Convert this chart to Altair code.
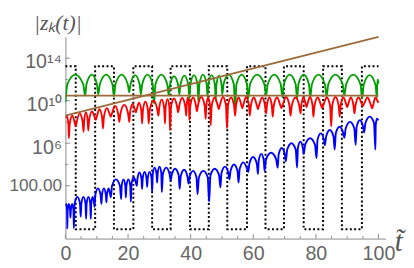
import altair as alt
import pandas as pd

# ---------------- data (values are log10 |z_k|) ----------------
t_max_axis = 102.2
L_min, L_max = -2.97, 16.0
title_text = "|zₖ(t)|"

# dotted square wave: switching times and levels
sq_t = [0, 3.3, 9.5, 15.5, 21.7, 27.7, 33.6, 39.8, 45.8, 51.7, 58.0, 63.9, 69.8, 76.1, 82.3, 88.3, 94.7, 100]
sq_high, sq_low = 13.24, -2.09

# brown reference lines
brown_flat_t = [0, 100]
brown_flat_L = [10.47, 10.47]
brown_rise_t = [0, 100]
brown_rise_L = [8.6, 16.0]

# green: knots (start, dips, end) and arch tops between knots
green_t = [0, 6.3, 10.5, 15.5, 20.4, 24.1, 28.3, 33.0, 36.4, 39.6, 42.5, 45.4, 48.0, 50.1, 54.2, 58.4, 64.1, 69.3, 74.0, 78.2, 83.4, 89.1, 94.8, 99.5, 100]
green_L = [9.85, 10.47, 10.6, 10.4, 10.8, 10.6, 9.7, 10.5, 10.6, 10.2, 9.85, 10.4, 10.0, 10.6, 9.4, 10.2, 10.5, 10.3, 10.2, 10.3, 10.4, 10.5, 10.2, 10.3, 11.6]
green_top = [12.45, 12.45, 12.45, 12.45, 12.4, 12.45, 12.45, 12.3, 12.35, 12.4, 12.45, 12.4, 12.35, 12.45, 12.45, 12.45, 12.45, 12.45, 12.45, 12.45, 12.45, 12.45, 12.4, 12.0]

# red
red_t = [0, 1.1, 3.3, 5.8, 7.3, 9.7, 12.0, 14.5, 17.2, 20.4, 22.5, 24.5, 26.6, 29.7, 31.8, 33.4, 36.0, 38.6, 39.6, 42.0, 44.8, 46.4, 49.0, 51.6, 54.2, 56.5, 58.9, 61.5, 64.1, 66.2, 69.0, 71.9, 75.1, 77.0, 79.2, 82.0, 84.9, 87.6, 90.0, 92.3, 95.0, 98.0, 100]
red_L = [8.4, 6.47, 7.6, 7.08, 7.2, 8.2, 7.4, 8.5, 8.0, 8.0, 8.9, 7.85, 7.85, 8.6, 7.85, 7.23, 8.9, 8.6, 8.16, 9.0, 8.3, 7.7, 9.2, 7.4, 8.6, 9.3, 8.6, 9.2, 8.8, 8.5, 9.3, 8.6, 8.8, 9.4, 8.5, 9.3, 7.58, 8.5, 9.4, 8.8, 9.5, 9.27, 9.8]
red_top = [8.5, 8.6, 8.8, 8.9, 9.0, 9.2, 9.3, 9.5, 9.6, 9.7, 9.8, 9.9, 10.0, 10.1, 10.15, 10.2, 10.25, 10.3, 10.3, 10.35, 10.3, 10.3, 10.35, 10.3, 10.3, 10.35, 10.3, 10.3, 10.3, 10.3, 10.35, 10.3, 10.3, 10.35, 10.3, 10.3, 10.35, 10.3, 10.3, 10.3, 10.3, 10.3]

# blue
blue_t = [0, 0.6, 1.6, 2.7, 4.9, 6.6, 8.1, 9.3, 11.5, 13.1, 14.5, 17.8, 19.3, 20.9, 22.8, 24.5, 26.1, 27.7, 29.3, 30.8, 33.6, 36.5, 39.3, 42.2, 45.9, 49.5, 52.4, 55.3, 58.4, 61.5, 63.6, 67.8, 70.4, 74.0, 76.1, 80.2, 82.9, 86.0, 89.1, 92.7, 95.4, 99.0, 100]
blue_L = [0.1, -2.0, -1.0, -2.0, -0.9, -1.1, -1.1, 0.0, 0.3, 0.45, 0.9, 0.75, 0.9, 0.5, 2.0, 1.7, 1.9, 1.4, 2.3, 1.4, 2.5, 1.7, 2.2, 1.2, 0.5, 1.85, 2.6, 2.3, 3.3, 3.1, 3.4, 3.7, 4.3, 3.7, 5.0, 4.6, 5.8, 5.4, 6.5, 5.85, 7.0, 5.4, 8.16]
blue_top = [0.3, 0.3, 0.3, 0.95, 0.95, 0.95, 0.95, 1.75, 1.75, 1.75, 2.6, 2.6, 2.6, 2.8, 3.24, 3.3, 3.3, 3.7, 3.8, 3.7, 3.6, 3.5, 3.4, 3.4, 3.6, 3.8, 4.0, 4.2, 4.7, 5.0, 5.1, 5.55, 6.0, 6.15, 6.47, 6.93, 7.24, 7.55, 8.0, 8.16, 8.5, 8.3]

# axis ticks
x_major = [0, 20, 40, 60, 80, 100]
x_minor = [5, 10, 15, 25, 30, 35, 45, 50, 55, 65, 70, 75, 85, 90, 95]
y_major = [2, 6, 10, 14]
y_minor = [-2, 0, 4, 8, 12]


def arch_vertices(name, ts, Ls, tops, drop, frac):
    """Knots (dips) joined by rounded arches whose crest is the read top value."""
    rows = []
    for i in range(len(ts) - 1):
        t0, t1 = ts[i], ts[i + 1]
        w = t1 - t0
        top = tops[i]
        rows.append((t0, Ls[i]))
        dl = min(drop, max(0.0, 0.75 * (top - Ls[i])))
        dr = min(drop, max(0.0, 0.75 * (top - Ls[i + 1])))
        rows.append((t0 + frac * w, top - dl))
        rows.append((t0 + 0.5 * w, top))
        rows.append((t1 - frac * w, top - dr))
    rows.append((ts[-1], Ls[-1]))
    return pd.DataFrame({"t": [r[0] for r in rows], "L": [r[1] for r in rows],
                         "i": list(range(len(rows))), "s": name})


green_df = arch_vertices("green", green_t, green_L, green_top, 0.9, 0.1)
red_df = arch_vertices("red", red_t, red_L, red_top, 0.8, 0.12)
blue_df = arch_vertices("blue", blue_t, blue_L, blue_top, 0.6, 0.12)

sq_L = [sq_high if k % 2 == 0 else sq_low for k in range(len(sq_t) - 1)]
sq_L.append(sq_L[-1])
sq_df = pd.DataFrame({"t": sq_t, "L": sq_L, "i": list(range(len(sq_t)))})

brown_df = pd.concat([
    pd.DataFrame({"t": brown_flat_t, "L": brown_flat_L, "g": "flat"}),
    pd.DataFrame({"t": brown_rise_t, "L": brown_rise_L, "g": "rise"}),
])

W, H = 326, 205.5
xs = alt.Scale(domain=[0, t_max_axis], nice=False, zero=False)
ys = alt.Scale(domain=[L_min, L_max], nice=False, zero=False)

label_font = "Liberation Sans"
grey = "#666666"
axis_grey = "#8a8a8a"

y_label_expr = ("datum.value == 2 ? '100.00' : datum.value == 6 ? '10⁶' : "
                "datum.value == 10 ? '10¹⁰' : datum.value == 14 ? '10¹⁴' : ''")

x_axis = alt.Axis(values=x_major, format="d", labelFont=label_font,
                  labelFontSize=20, labelColor=grey, domainColor=axis_grey, ticks=False,
                  labelPadding=5, grid=False, labelFlush=False, labelOverlap=False,
                  title="t̃", titleFont="Liberation Serif", titleFontStyle="italic",
                  titleFontWeight="normal", titleFontSize=29, titleColor="#555555",
                  titleX=335, titleY=12, titleAlign="left", titleBaseline="alphabetic", titleAngle=0)
y_axis = alt.Axis(values=y_major, labelExpr=y_label_expr, labelFont=label_font,
                  labelFontSize={"condition": {"test": "datum.value == 2", "value": 17.5}, "value": 20},
                  labelOffset={"condition": {"test": "datum.value == 2", "value": 0}, "value": 4},
                  labelColor=grey, domainColor=axis_grey, ticks=False,
                  labelPadding=4, grid=False, title=None, labelFlush=False, labelOverlap=False)

X = alt.X("t:Q", scale=xs, axis=x_axis)

sq = alt.Chart(sq_df).mark_line(interpolate="step-after", color="black", strokeWidth=2,
                                strokeDash=[2, 2.4]).encode(
    x=X, y=alt.Y("L:Q", scale=ys, axis=y_axis), order="i:Q")


# inward axis ticks (axis decorations placed through the scales)
def ytick_layer(vals, length):
    return alt.Chart(pd.DataFrame({"L": vals})).mark_rule(color=axis_grey, strokeWidth=1).encode(
        y=alt.Y("L:Q", scale=ys, axis=None), x=alt.value(0), x2=alt.value(length))


def xtick_layer(vals, length):
    return alt.Chart(pd.DataFrame({"t": vals})).mark_rule(color=axis_grey, strokeWidth=1).encode(
        x=X, y=alt.value(H), y2=alt.value(H - length))


ticks = [ytick_layer(y_major, 4.5), ytick_layer(y_minor, 2.5),
         xtick_layer(x_major, 4.5), xtick_layer(x_minor, 2.5)]

colors = {"green": "#009f00", "red": "#ff0000", "blue": "#0000ff"}
curves = []
for df in (green_df, red_df, blue_df):
    curves.append(alt.Chart(df).mark_line(interpolate="monotone", color=colors[df["s"].iloc[0]],
                                          strokeWidth=1.9, clip=True)
                  .encode(x=X, y=alt.Y("L:Q", scale=ys, axis=None), order="i:Q"))

brown = alt.Chart(brown_df).mark_line(color="#9c6b3a", strokeWidth=1.9).encode(
    x=X, y=alt.Y("L:Q", scale=ys, axis=None), detail="g:N")

# plot title (upper left, outside the plot area)
title = alt.Chart(pd.DataFrame({"txt": [title_text]})).mark_text(
    align="left", baseline="alphabetic", font="Liberation Serif", fontStyle="italic",
    fontSize=22, color="#555555").encode(text="txt:N", x=alt.value(-32), y=alt.value(-7))

chart = alt.layer(sq, *ticks, *curves, brown, title).resolve_axis(y="independent").properties(
    width=W, height=H,
    autosize=alt.AutoSizeParams(type="none"),
    padding={"left": 58.5, "top": 27, "right": 21, "bottom": 25},
).configure_view(stroke=None)

chart.save("out.html", embed_options={"renderer": "svg", "actions": False})
